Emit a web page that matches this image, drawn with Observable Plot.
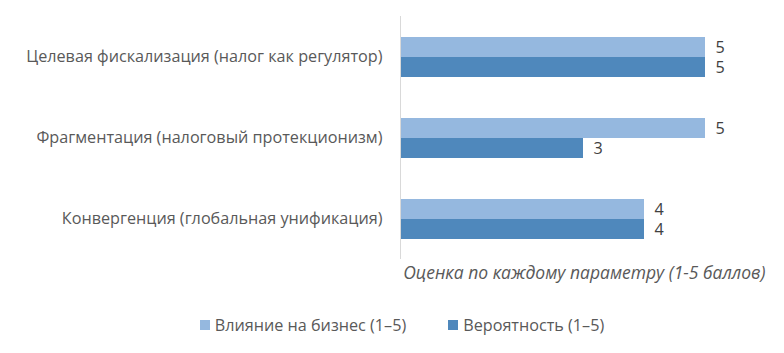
<!DOCTYPE html>
<html>
<head>
<meta charset="utf-8">
<script src="https://cdn.jsdelivr.net/npm/d3@7"></script>
<script src="https://cdn.jsdelivr.net/npm/@observablehq/plot@0.6"></script>
<style>
  body { margin: 0; background: #fff; font-family: "Open Sans", sans-serif; }
  #chart { width: 784px; height: 290px; }
  .legend { display: flex; justify-content: center; gap: 42px; font-size: 16.2px; color: #595959; margin-top: 24px; margin-left: 20px; }
  .legend span { display: inline-flex; align-items: center; }
  .legend i { display: inline-block; width: 10px; height: 10px; margin-right: 5px; }
</style>
</head>
<body>
<div id="chart"></div>
<script>
const categories = [
  "Целевая фискализация (налог как регулятор)",
  "Фрагментация (налоговый протекционизм)",
  "Конвергенция (глобальная унификация)"
];
const seriesNames = ["Влияние на бизнес (1–5)", "Вероятность (1–5)"];
const influence = [5, 5, 4];
const probability = [5, 3, 4];
const colors = ["#95b8df", "#4f88bc"];
const axisTitle = "Оценка по каждому параметру (1-5 баллов)";

const rows = [];
categories.forEach((c, i) => {
  rows.push({category: c, series: seriesNames[0], value: influence[i]});
  rows.push({category: c, series: seriesNames[1], value: probability[i]});
});

const plot = Plot.plot({
  width: 784,
  height: 290,
  marginLeft: 400,
  marginRight: 79,
  marginTop: 16,
  marginBottom: 31,
  style: {fontFamily: "'Open Sans', sans-serif", fontSize: "16.2px", color: "#595959", background: "#fff", overflow: "visible"},
  x: {domain: [0, 5], axis: null},
  fy: {domain: categories, padding: 0, label: null},
  y: {domain: seriesNames, paddingInner: 0, paddingOuter: 0.93, axis: null},
  color: {domain: seriesNames, range: colors},
  marks: [
    Plot.barX(rows, {fy: "category", y: "series", x: "value", fill: "series"}),
    Plot.text(rows, {fy: "category", y: "series", x: "value", text: d => String(d.value), textAnchor: "start", dx: 10, fill: "#404040", fontSize: 16.2}),
    Plot.ruleX([0], {stroke: "#d9d9d9", strokeWidth: 1}),
    Plot.axisFy({anchor: "left", tickSize: 0, tickPadding: 18, label: null, fill: "#595959", fontSize: 16.2}),
    Plot.text([axisTitle], {fy: () => categories[2], text: d => d, frameAnchor: "bottom-right", dx: 60, dy: 19, textAnchor: "end", fontStyle: "italic", fill: "#595959", fontSize: 17.5})
  ]
});
document.getElementById("chart").appendChild(plot);

const legend = document.createElement("div");
legend.className = "legend";
seriesNames.forEach((s, i) => {
  const span = document.createElement("span");
  const sw = document.createElement("i");
  sw.style.background = colors[i];
  span.appendChild(sw);
  span.appendChild(document.createTextNode(s));
  legend.appendChild(span);
});
document.body.appendChild(legend);
</script>
</body>
</html>
